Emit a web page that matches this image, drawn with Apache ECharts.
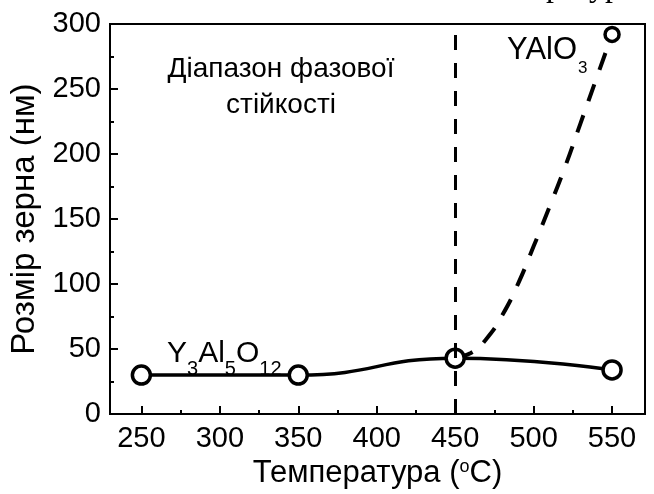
<!DOCTYPE html>
<html>
<head>
<meta charset="utf-8">
<script src="https://cdn.jsdelivr.net/npm/echarts@6/dist/echarts.min.js"></script>
<style>
  html, body { margin: 0; padding: 0; background: #fff; }
  #chart { width: 654px; height: 494px; }
</style>
</head>
<body>
<div id="chart"></div>
<script>
// Temperature axis ticks (°C)
const xMajorTicks = [250, 300, 350, 400, 450, 500, 550];
const xMinorTicks = [275, 325, 375, 425, 475, 525];

// Y3Al5O12 (garnet) grain size, nm
const garnetTemps = [250, 350, 450, 550];
const garnetSizes = [30, 30, 43, 34];

// YAlO3 (perovskite) growth trend above the phase boundary, nm
const perovskiteTemps = [450, 460, 470, 480, 490, 500, 510, 520, 530, 540, 550];
const perovskiteSizes = [44, 47, 58, 76, 100, 129, 159, 190, 224, 258, 292];

// Measured YAlO3 point
const perovskitePointTemp = [550];
const perovskitePointSize = [292];

// Upper limit of the phase-stability range, °C
const phaseBoundary = 450;

const FONT = '"Liberation Sans", Arial, sans-serif';

const chart = echarts.init(document.getElementById('chart'), null, { renderer: 'canvas' });

const toPairs = (xs, ys) => xs.map((x, i) => [x, ys[i]]);

chart.setOption({
  animation: false,
  backgroundColor: '#fff',
  grid: {
    left: 110, right: 9, top: 24, bottom: 71,
    show: true, borderColor: '#000', borderWidth: 2, backgroundColor: 'transparent'
  },
  xAxis: [
    {
      type: 'value', min: 230, max: 571,
      name: '{t|Температура (}{sup|o}{t|C)}',
      nameLocation: 'middle', nameGap: 34,
      nameTextStyle: {
        rich: {
          t: { fontFamily: FONT, fontSize: 31, color: '#000', verticalAlign: 'top', lineHeight: 32 },
          sup: { fontFamily: FONT, fontSize: 18, color: '#000', verticalAlign: 'top', lineHeight: 18 }
        }
      },
      axisLine: { show: true, onZero: false, lineStyle: { color: '#000', width: 2 } },
      axisTick: { show: true, inside: true, length: 8, customValues: xMajorTicks, lineStyle: { color: '#000', width: 2 } },
      axisLabel: { show: true, customValues: xMajorTicks, fontFamily: FONT, fontSize: 29, color: '#000', margin: 10 },
      splitLine: { show: false }
    },
    {
      type: 'value', min: 230, max: 571, position: 'bottom',
      axisLine: { show: false },
      axisTick: { show: true, inside: true, length: 4, customValues: xMinorTicks, lineStyle: { color: '#000', width: 2 } },
      axisLabel: { show: false },
      splitLine: { show: false }
    }
  ],
  yAxis: {
    type: 'value', min: 0, max: 300, interval: 50,
    name: 'Розмір зерна (нм)',
    nameLocation: 'middle', nameGap: 65,
    nameTextStyle: { fontFamily: FONT, fontSize: 33, color: '#000' },
    axisLine: { show: true, lineStyle: { color: '#000', width: 2 } },
    axisTick: { show: true, inside: true, length: 8, lineStyle: { color: '#000', width: 2 } },
    minorTick: { show: true, splitNumber: 2, length: 4, lineStyle: { color: '#000', width: 2 } },
    axisLabel: { fontFamily: FONT, fontSize: 29, color: '#000', margin: 9 },
    splitLine: { show: false },
    minorSplitLine: { show: false }
  },
  series: [
    {
      name: 'YAlO3 trend',
      type: 'line',
      data: toPairs(perovskiteTemps, perovskiteSizes),
      smooth: true,
      showSymbol: false,
      symbol: 'none',
      lineStyle: { color: '#000', width: 4, type: [18, 15] },
      z: 2,
      markLine: {
        silent: true,
        symbol: 'none',
        label: { show: false },
        lineStyle: { color: '#000', width: 3, type: [15, 13] },
        data: [{ xAxis: phaseBoundary }]
      }
    },
    {
      name: 'YAlO3',
      type: 'scatter',
      data: toPairs(perovskitePointTemp, perovskitePointSize),
      symbol: 'circle',
      symbolSize: 14,
      itemStyle: { color: '#fff', borderColor: '#000', borderWidth: 3.5, opacity: 1 },
      z: 5
    },
    {
      name: 'Y3Al5O12',
      type: 'line',
      data: toPairs(garnetTemps, garnetSizes),
      smooth: 0.5,
      symbol: 'circle',
      symbolSize: 18,
      showAllSymbol: true,
      itemStyle: { color: '#fff', borderColor: '#000', borderWidth: 3.5 },
      lineStyle: { color: '#000', width: 3.5 },
      z: 4
    }
  ],
  graphic: [
    {
      type: 'text',
      style: {
        x: 281, y: 51, text: 'Діапазон фазової\nстійкості', align: 'center',
        font: '28px ' + FONT, fill: '#000', lineHeight: 36
      }
    },
    {
      type: 'text',
      style: {
        x: 507, y: 35,
        text: '{m|YAlO}{s|3}',
        rich: {
          m: { fontFamily: FONT, fontSize: 31, fill: '#000', color: '#000', verticalAlign: 'top', lineHeight: 31 },
          s: { fontFamily: FONT, fontSize: 17, fill: '#000', color: '#000', verticalAlign: 'top', lineHeight: 17, padding: [25, 0, 0, 1] }
        }
      }
    },
    {
      type: 'text',
      style: {
        x: 167, y: 339,
        text: '{m|Y}{s|3}{m|Al}{s|5}{m|O}{s|12}',
        rich: {
          m: { fontFamily: FONT, fontSize: 30, fill: '#000', color: '#000', verticalAlign: 'top', lineHeight: 30 },
          s: { fontFamily: FONT, fontSize: 20, fill: '#000', color: '#000', verticalAlign: 'top', lineHeight: 20, padding: [20, 0, 0, 0] }
        }
      }
    },
    {
      type: 'text',
      style: {
        x: 546, y: 4, text: 'ратур', verticalAlign: 'bottom',
        font: '32px "Liberation Serif", "Times New Roman", serif', fill: '#000'
      }
    }
  ]
});
</script>
</body>
</html>
